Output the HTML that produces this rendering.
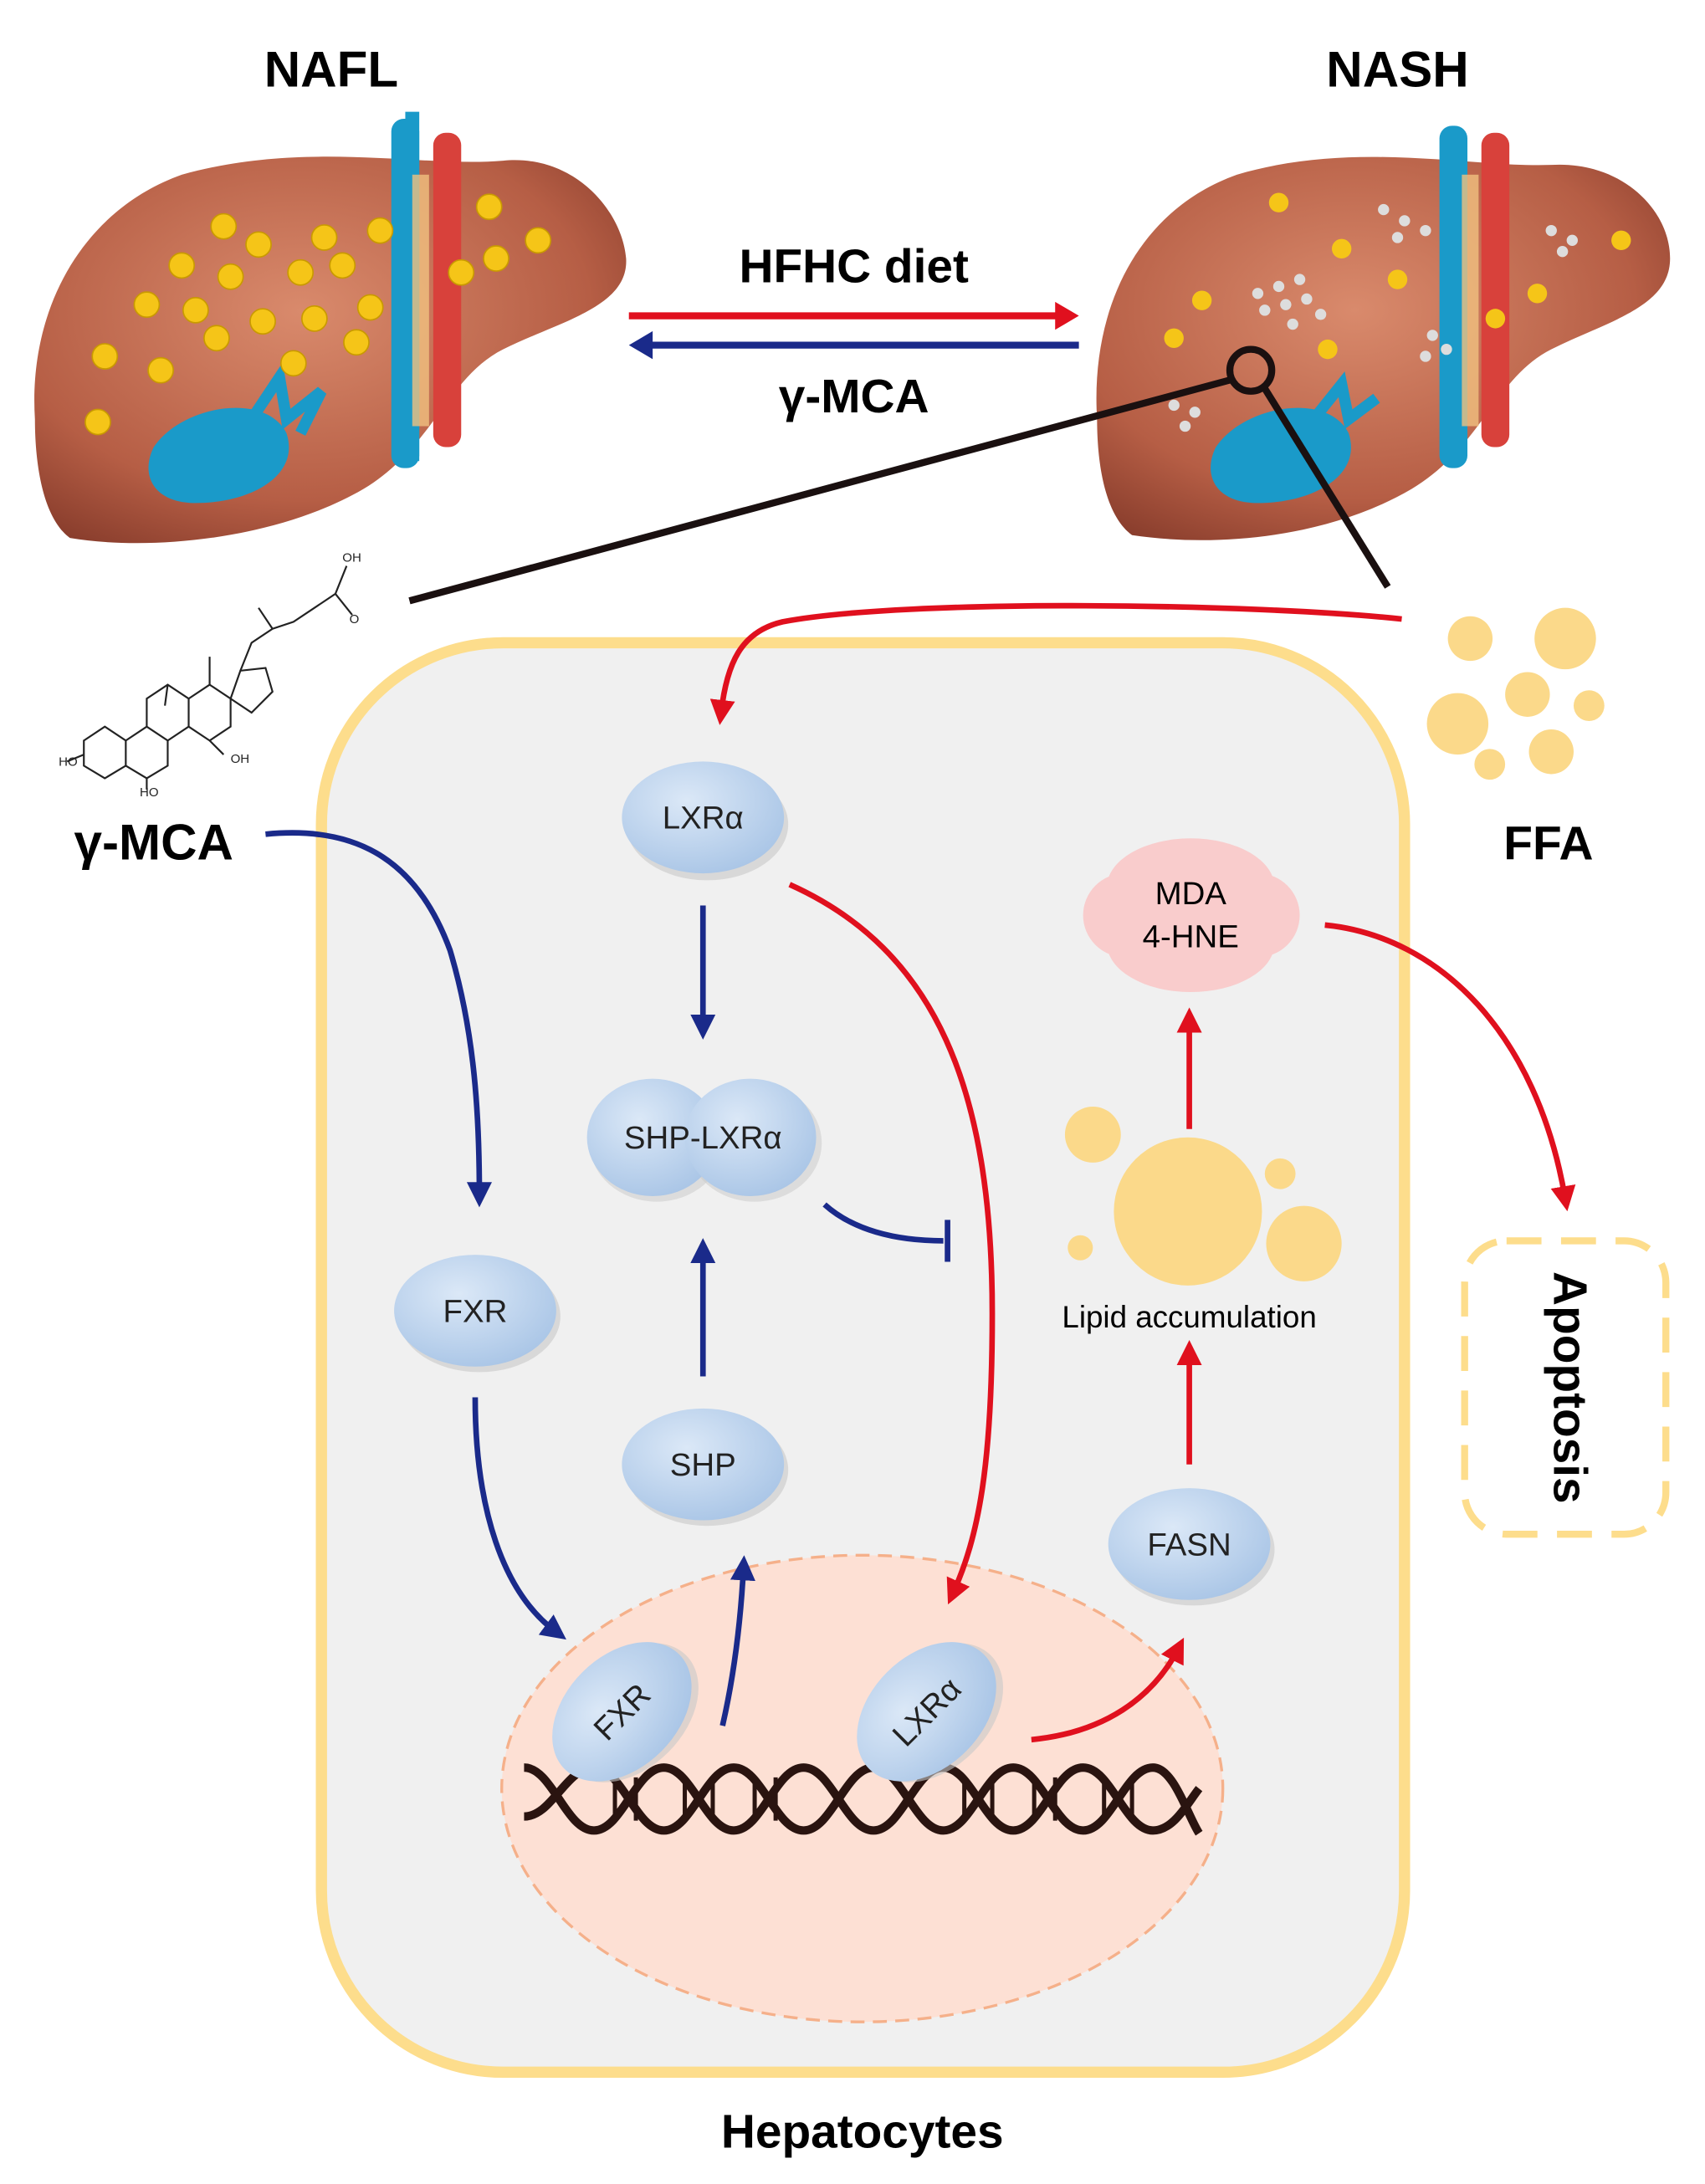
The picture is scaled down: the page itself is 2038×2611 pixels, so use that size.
<!DOCTYPE html>
<html><head><meta charset="utf-8">
<style>
html,body{margin:0;padding:0;background:#fff;}
svg{display:block;}
text{font-family:"Liberation Sans",Arial,sans-serif;}
</style></head>
<body>
<svg width="2038" height="2611" viewBox="0 0 1220 1563" preserveAspectRatio="none" xmlns="http://www.w3.org/2000/svg">
<defs>
<radialGradient id="liv" cx="45%" cy="40%" r="70%">
<stop offset="0" stop-color="#d98a6c"/><stop offset="0.7" stop-color="#b65e45"/><stop offset="1" stop-color="#8a3e2d"/></radialGradient>
<radialGradient id="node" cx="40%" cy="35%" r="70%">
<stop offset="0" stop-color="#dbe8f7"/><stop offset="1" stop-color="#a9c5e6"/></radialGradient>
<marker id="rb" markerWidth="8" markerHeight="8" refX="4" refY="4" orient="auto" markerUnits="userSpaceOnUse" viewBox="0 0 8 8"><path d="M0,0 L8,4 L0,8 z" fill="#1a237e"/></marker>
<marker id="rr" markerWidth="8" markerHeight="8" refX="4" refY="4" orient="auto" markerUnits="userSpaceOnUse" viewBox="0 0 8 8"><path d="M0,0 L8,4 L0,8 z" fill="#e0101e"/></marker>
<marker id="bh" viewBox="0 0 10 10" refX="5" refY="5" markerWidth="18" markerHeight="18" orient="auto" markerUnits="userSpaceOnUse"><path d="M0,0 L10,5 L0,10 z" fill="#1a2a8a"/></marker>
<marker id="rh" viewBox="0 0 10 10" refX="5" refY="5" markerWidth="18" markerHeight="18" orient="auto" markerUnits="userSpaceOnUse"><path d="M0,0 L10,5 L0,10 z" fill="#e0101e"/></marker>
</defs>

<!-- Titles -->
<text x="237" y="62" font-size="36" font-weight="bold" text-anchor="middle">NAFL</text>
<text x="1000" y="62" font-size="36" font-weight="bold" text-anchor="middle">NASH</text>

<!-- Left liver -->
<g>
<path d="M25,300 C20,220 60,150 130,125 C220,100 300,120 360,115 C410,110 445,150 448,185 C450,220 400,230 360,250 C320,270 310,320 260,350 C200,385 110,395 50,385 C30,370 25,330 25,300 Z" fill="url(#liv)"/>
<path d="M290,80 L300,80 L300,330 L290,330 Z" fill="#1a9ac9"/>
<rect x="280" y="85" width="20" height="250" rx="9" fill="#1a9ac9"/>
<rect x="310" y="95" width="20" height="225" rx="9" fill="#d8413b"/>
<rect x="295" y="125" width="12" height="180" fill="#f0c080" opacity="0.8"/>
<path d="M110,320 C130,290 190,280 205,310 C215,340 180,360 140,360 C110,360 100,340 110,320 Z" fill="#1a9ac9"/>
<path d="M180,300 L200,270 L205,300 L230,280 L215,310" stroke="#1a9ac9" stroke-width="8" fill="none"/>
<g fill="#f5c518" stroke="#c99a00" stroke-width="1">
<circle cx="160" cy="162" r="9"/><circle cx="130" cy="190" r="9"/><circle cx="185" cy="175" r="9"/><circle cx="232" cy="170" r="9"/><circle cx="272" cy="165" r="9"/><circle cx="215" cy="195" r="9"/><circle cx="245" cy="190" r="9"/><circle cx="165" cy="198" r="9"/><circle cx="105" cy="218" r="9"/><circle cx="140" cy="222" r="9"/><circle cx="188" cy="230" r="9"/><circle cx="225" cy="228" r="9"/><circle cx="265" cy="220" r="9"/><circle cx="75" cy="255" r="9"/><circle cx="115" cy="265" r="9"/><circle cx="155" cy="242" r="9"/><circle cx="210" cy="260" r="9"/><circle cx="255" cy="245" r="9"/><circle cx="70" cy="302" r="9"/><circle cx="350" cy="148" r="9"/><circle cx="385" cy="172" r="9"/><circle cx="330" cy="195" r="9"/><circle cx="355" cy="185" r="9"/>
</g>
</g>

<!-- Right liver -->
<g>
<path d="M785,300 C780,220 815,150 885,125 C970,100 1050,120 1110,118 C1160,115 1195,150 1195,185 C1195,220 1150,230 1110,250 C1070,270 1060,320 1010,350 C950,385 870,392 810,383 C790,368 785,330 785,300 Z" fill="url(#liv)"/>
<rect x="1030" y="90" width="20" height="245" rx="9" fill="#1a9ac9"/>
<rect x="1060" y="95" width="20" height="225" rx="9" fill="#d8413b"/>
<rect x="1046" y="125" width="12" height="180" fill="#f0c080" opacity="0.8"/>
<path d="M870,320 C890,290 950,280 965,310 C975,340 940,360 900,360 C870,360 860,340 870,320 Z" fill="#1a9ac9"/>
<path d="M940,300 L960,275 L965,300 L985,285" stroke="#1a9ac9" stroke-width="8" fill="none"/>
<g fill="#f5c518"><circle cx="915" cy="145" r="7"/><circle cx="860" cy="215" r="7"/><circle cx="840" cy="242" r="7"/><circle cx="950" cy="250" r="7"/><circle cx="1000" cy="200" r="7"/><circle cx="1100" cy="210" r="7"/><circle cx="1160" cy="172" r="7"/><circle cx="1070" cy="228" r="7"/><circle cx="960" cy="178" r="7"/></g>
<g fill="#ddd"><circle cx="900" cy="210" r="4"/><circle cx="915" cy="205" r="4"/><circle cx="930" cy="200" r="4"/><circle cx="905" cy="222" r="4"/><circle cx="920" cy="218" r="4"/><circle cx="935" cy="214" r="4"/><circle cx="945" cy="225" r="4"/><circle cx="925" cy="232" r="4"/><circle cx="990" cy="150" r="4"/><circle cx="1005" cy="158" r="4"/><circle cx="1020" cy="165" r="4"/><circle cx="1000" cy="170" r="4"/><circle cx="1110" cy="165" r="4"/><circle cx="1125" cy="172" r="4"/><circle cx="1118" cy="180" r="4"/><circle cx="1025" cy="240" r="4"/><circle cx="1035" cy="250" r="4"/><circle cx="1020" cy="255" r="4"/><circle cx="840" cy="290" r="4"/><circle cx="855" cy="295" r="4"/><circle cx="848" cy="305" r="4"/></g>
</g>

<!-- HFHC arrows -->
<line x1="450" y1="226" x2="760" y2="226" stroke="#e0101e" stroke-width="5"/>
<path d="M772,226 L755,216 L755,236 Z" fill="#e0101e"/>
<line x1="465" y1="247" x2="772" y2="247" stroke="#1a2a8a" stroke-width="5"/>
<path d="M450,247 L467,237 L467,257 Z" fill="#1a2a8a"/>
<text x="611" y="202" font-size="34" font-weight="bold" text-anchor="middle">HFHC diet</text>
<text x="611" y="295" font-size="34" font-weight="bold" text-anchor="middle">γ-MCA</text>

<!-- zoom lines -->
<line x1="293" y1="430" x2="880" y2="272" stroke="#1a1010" stroke-width="5"/>
<circle cx="895" cy="265" r="15" fill="none" stroke="#1a1010" stroke-width="5"/>
<line x1="905" y1="278" x2="993" y2="420" stroke="#1a1010" stroke-width="5"/>

<!-- Cell -->
<rect x="230" y="460" width="775" height="1023" rx="130" fill="#f0f0f0" stroke="#fddd8c" stroke-width="8"/>
<text x="617" y="1537" font-size="34" font-weight="bold" text-anchor="middle">Hepatocytes</text>

<!-- molecule -->
<g stroke="#222" stroke-width="1.3" fill="none">
<path d="M60,530 L75,520 L90,530 L90,548 L75,557 L60,548 Z"/>
<path d="M90,530 L105,520 L120,530 L120,548 L105,557 L90,548"/>
<path d="M105,520 L105,500 L120,490 L135,500 L135,520 L120,530"/>
<path d="M135,500 L150,490 L165,500 L165,520 L150,530 L135,520"/>
<path d="M165,500 L172,480 L190,478 L195,495 L180,510 L165,500"/>
<path d="M172,480 L180,460 L195,450 L210,445 L225,435 L240,425 L248,405"/>
<path d="M240,425 L252,440"/>
<path d="M150,490 L150,470 M120,490 L118,505"/>
<path d="M60,540 L48,545 M105,557 L105,565 M150,530 L160,540"/>
<path d="M195,450 L185,435"/>
</g>
<g font-size="9" fill="#222"><text x="245" y="402">OH</text><text x="250" y="446">O</text><text x="42" y="548">HO</text><text x="165" y="546">OH</text><text x="100" y="570">HO</text></g>
<text x="110" y="615" font-size="36" font-weight="bold" text-anchor="middle">γ-MCA</text>

<!-- FFA -->
<g fill="#fbd98a"><circle cx="1052" cy="457" r="16"/><circle cx="1120" cy="457" r="22"/><circle cx="1093" cy="497" r="16"/><circle cx="1043" cy="518" r="22"/><circle cx="1137" cy="505" r="11"/><circle cx="1110" cy="538" r="16"/><circle cx="1066" cy="547" r="11"/></g>
<text x="1108" y="615" font-size="34" font-weight="bold" text-anchor="middle">FFA</text>

<!-- FFA red curve -->
<path d="M1003,443 C900,432 650,428 560,445 C530,452 520,475 516,510" fill="none" stroke="#e0101e" stroke-width="4" marker-end="url(#rh)"/>

<!-- Nucleus -->
<ellipse cx="617" cy="1280" rx="258" ry="167" fill="#fde0d4" stroke="#f5b08a" stroke-width="2" stroke-dasharray="10,6"/>
<!-- DNA -->
<g fill="none" stroke="#2a1410" stroke-width="6">
<path d="M375,1265 C395,1265 405,1310 425,1310 C445,1310 455,1265 475,1265 C495,1265 505,1310 525,1310 C545,1310 555,1265 575,1265 C595,1265 605,1310 625,1310 C645,1310 655,1265 675,1265 C695,1265 705,1310 725,1310 C745,1310 755,1265 775,1265 C795,1265 805,1310 825,1310 C840,1310 850,1290 858,1280"/>
<path d="M375,1300 C395,1300 405,1265 425,1265 C445,1265 455,1310 475,1310 C495,1310 505,1265 525,1265 C545,1265 555,1310 575,1310 C595,1310 605,1265 625,1265 C645,1265 655,1310 675,1310 C695,1310 705,1265 725,1265 C745,1265 755,1310 775,1310 C795,1310 805,1265 825,1265 C840,1265 850,1300 858,1312"/>
</g>
<g stroke="#2a1410" stroke-width="3">
<line x1="440" y1="1272" x2="440" y2="1303"/><line x1="455" y1="1272" x2="455" y2="1303"/><line x1="490" y1="1272" x2="490" y2="1303"/><line x1="510" y1="1272" x2="510" y2="1303"/><line x1="540" y1="1272" x2="540" y2="1303"/><line x1="555" y1="1272" x2="555" y2="1303"/><line x1="690" y1="1272" x2="690" y2="1303"/><line x1="710" y1="1272" x2="710" y2="1303"/><line x1="740" y1="1272" x2="740" y2="1303"/><line x1="755" y1="1272" x2="755" y2="1303"/><line x1="790" y1="1272" x2="790" y2="1303"/><line x1="810" y1="1272" x2="810" y2="1303"/>
</g>

<!-- nodes -->
<g font-size="23" text-anchor="middle" fill="#222">
<ellipse cx="506" cy="590" rx="58" ry="40" fill="#c8c8c8" opacity="0.6"/>
<ellipse cx="503" cy="585" rx="58" ry="40" fill="url(#node)"/>
<text x="503" y="593">LXRα</text>
<g>
<ellipse cx="470" cy="818" rx="48" ry="42" fill="#c8c8c8" opacity="0.5"/>
<ellipse cx="540" cy="818" rx="48" ry="42" fill="#c8c8c8" opacity="0.5"/>
<ellipse cx="467" cy="814" rx="47" ry="42" fill="url(#node)"/>
<ellipse cx="537" cy="814" rx="47" ry="42" fill="url(#node)"/>
<text x="503" y="822">SHP-LXRα</text>
</g>
<ellipse cx="343" cy="942" rx="58" ry="40" fill="#c8c8c8" opacity="0.6"/>
<ellipse cx="340" cy="938" rx="58" ry="40" fill="url(#node)"/>
<text x="340" y="946">FXR</text>
<ellipse cx="506" cy="1052" rx="58" ry="40" fill="#c8c8c8" opacity="0.6"/>
<ellipse cx="503" cy="1048" rx="58" ry="40" fill="url(#node)"/>
<text x="503" y="1056">SHP</text>
<ellipse cx="854" cy="1109" rx="58" ry="40" fill="#c8c8c8" opacity="0.6"/>
<ellipse cx="851" cy="1105" rx="58" ry="40" fill="url(#node)"/>
<text x="851" y="1113">FASN</text>
<g transform="rotate(-45 445 1225)">
<ellipse cx="448" cy="1229" rx="58" ry="40" fill="#c8c8c8" opacity="0.6"/>
<ellipse cx="445" cy="1225" rx="58" ry="40" fill="url(#node)"/>
<text x="445" y="1233">FXR</text></g>
<g transform="rotate(-45 663 1225)">
<ellipse cx="666" cy="1229" rx="58" ry="40" fill="#c8c8c8" opacity="0.6"/>
<ellipse cx="663" cy="1225" rx="58" ry="40" fill="url(#node)"/>
<text x="663" y="1233">LXRα</text></g>
</g>

<!-- MDA -->
<g>
<ellipse cx="852" cy="635" rx="60" ry="35" fill="#f9cccc"/>
<ellipse cx="852" cy="675" rx="60" ry="35" fill="#f9cccc"/>
<rect x="775" y="625" width="155" height="60" rx="30" fill="#f9cccc"/>
<text x="852" y="647" font-size="23" text-anchor="middle">MDA</text>
<text x="852" y="678" font-size="23" text-anchor="middle">4-HNE</text>
</g>

<!-- lipid -->
<g fill="#fbd98a"><circle cx="850" cy="867" r="53"/><circle cx="782" cy="812" r="20"/><circle cx="933" cy="890" r="27"/><circle cx="916" cy="840" r="11"/><circle cx="773" cy="893" r="9"/></g>
<text x="851" y="950" font-size="22" text-anchor="middle">Lipid accumulation</text>

<!-- Apoptosis -->
<rect x="1048" y="888" width="144" height="210" rx="30" fill="none" stroke="#fddd8c" stroke-width="5" stroke-dasharray="25,14"/>
<text transform="translate(1112,993) rotate(90)" font-size="34" font-weight="bold" text-anchor="middle">Apoptosis</text>

<!-- blue arrows -->
<g fill="none" stroke="#1a2a8a" stroke-width="4">
<path d="M190,597 C260,590 300,620 322,680 C340,740 343,800 343,855" marker-end="url(#bh)"/>
<path d="M503,648 L503,735" marker-end="url(#bh)"/>
<path d="M503,985 L503,895" marker-end="url(#bh)"/>
<path d="M340,1000 C340,1080 360,1140 398,1168" marker-end="url(#bh)"/>
<path d="M517,1235 C525,1200 530,1160 532,1122" marker-end="url(#bh)"/>
<path d="M590,862 C610,880 640,888 675,888"/>
<line x1="678" y1="873" x2="678" y2="903"/>
</g>
<!-- red arrows -->
<g fill="none" stroke="#e0101e" stroke-width="4">
<path d="M565,633 C670,680 710,780 710,940 C710,1050 700,1100 682,1140" marker-end="url(#rh)"/>
<path d="M738,1245 C790,1240 825,1215 843,1180" marker-end="url(#rh)"/>
<path d="M851,1048 L851,968" marker-end="url(#rh)"/>
<path d="M851,808 L851,730" marker-end="url(#rh)"/>
<path d="M948,662 C1030,670 1100,740 1120,858" marker-end="url(#rh)"/>
</g>
</svg>
</body></html>
